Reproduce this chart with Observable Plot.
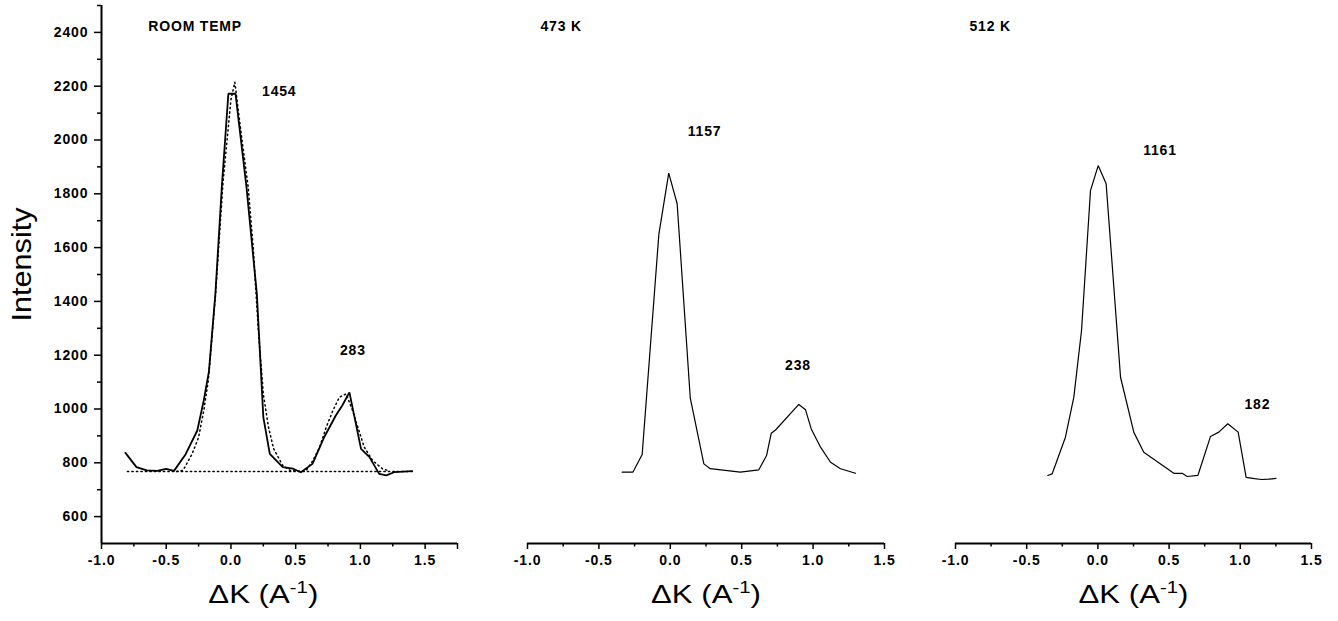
<!DOCTYPE html>
<html>
<head>
<meta charset="utf-8">
<script src="https://cdn.jsdelivr.net/npm/d3@7"></script>
<script src="https://cdn.jsdelivr.net/npm/@observablehq/plot@0.6"></script>
<style>
  body { margin: 0; background: #fff; }
  #wrap { position: relative; width: 1338px; height: 621px; overflow: hidden; background: #fff; }
  #wrap svg { position: absolute; top: 0; }
  #wrap svg g[aria-label$="tick label"] text { letter-spacing: 0.9px; }
  #wrap svg .annot text { letter-spacing: 0.8px; }
</style>
</head>
<body>
<div id="wrap"></div>
<script>
// ---------- data ----------
const panelTitles = ["ROOM TEMP", "473 K", "512 K"];

// Room temperature: measured (solid)
const rtX = [-0.815,-0.73,-0.65,-0.57,-0.50,-0.44,-0.35,-0.26,-0.21,-0.17,-0.12,-0.07,-0.02,0.035,0.12,0.20,0.25,0.30,0.40,0.48,0.54,0.63,0.72,0.81,0.86,0.915,1.005,1.07,1.145,1.20,1.26,1.40];
const rtY = [837,784,772,770,777,770,832,920,1032,1140,1430,1830,2172,2172,1825,1428,970,833,784,778,765,796,895,976,1013,1062,852,821,759,753,765,769];
// Room temperature: fit (dotted)
const rtFitX = [-0.42,-0.37,-0.30,-0.25,-0.21,-0.175,-0.12,-0.06,0.0,0.03,0.08,0.133,0.172,0.21,0.25,0.29,0.33,0.40,0.46,0.55,0.58,0.633,0.685,0.736,0.787,0.838,0.89,0.94,0.98,1.03,1.095,1.17,1.22];
const rtFitY = [768,772,833,895,994,1106,1420,1850,2150,2215,2020,1825,1601,1304,1056,932,852,790,771,768,771,808,858,932,994,1044,1056,994,932,858,808,778,770];
// Room temperature: background (dotted)
const rtBaseX = [-0.80, 1.42];
const rtBaseY = [768, 768];

// 473 K
const k473X = [-0.337,-0.262,-0.197,-0.08,-0.011,0.048,0.14,0.235,0.28,0.49,0.62,0.674,0.707,0.737,0.90,0.947,0.987,1.052,1.122,1.192,1.297];
const k473Y = [765,765,831,1650,1877,1763,1040,796,778,765,774,827,910,922,1017,997,926,858,802,778,761];

// 512 K
const k512X = [-0.352,-0.321,-0.228,-0.169,-0.115,-0.052,0.002,0.058,0.159,0.252,0.322,0.533,0.592,0.627,0.702,0.791,0.849,0.912,0.985,1.041,1.10,1.15,1.20,1.25];
const k512Y = [753,759,895,1044,1292,1812,1905,1837,1118,914,839,761,761,749,753,898,914,945,914,746,741,738,739,742];

// peak annotations
const rtPeakText = ["1454", "283"];
const rtPeakX = [0.373, 0.942];
const rtPeakY = [2180, 1217];
const k473PeakText = ["1157", "238"];
const k473PeakX = [0.24, 0.894];
const k473PeakY = [2032, 1162];
const k512PeakText = ["1161", "182"];
const k512PeakX = [0.436, 1.12];
const k512PeakY = [1961, 1017];
const titleX = [-0.638, -0.909, -0.902];
const titleY = 2422;

// axes
const xTicks = [-1, -0.5, 0, 0.5, 1, 1.5];
const xMinor = [-0.75, -0.25, 0.25, 0.75, 1.25];
const yTicks = [600, 800, 1000, 1200, 1400, 1600, 1800, 2000, 2200, 2400];
const yMinor = [700, 900, 1100, 1300, 1500, 1700, 1900, 2100, 2300, 2500];
const yDomain = [500, 2500];
const xLabelText = "\u0394K (A-1)";
const yLabelText = "Intensity";

// ---------- helpers ----------
const FONT = "'Liberation Sans', Arial, Helvetica, sans-serif";
const zip = (xs, ys) => xs.map((x, i) => ({x, y: ys[i]}));
const texts = (ts, xs, ys) => ts.map((t, i) => ({t, x: xs[i], y: ys[i]}));

function panel(cfg) {
  const marks = [];
  // axis lines
  marks.push(Plot.ruleY([yDomain[0]], {x1: -1, x2: cfg.xMax, strokeWidth: 2, stroke: "black"}));
  if (cfg.yAxis) marks.push(Plot.ruleX([-1], {y1: yDomain[0], y2: yDomain[1], strokeWidth: 2, stroke: "black"}));
  // x ticks
  marks.push(Plot.axisX(xTicks, {tickSize: 6, tickPadding: 6, tickFormat: d => d.toFixed(1), label: null,
    fontSize: 14, fontWeight: "bold", strokeWidth: 1.5}));
  marks.push(Plot.axisX(cfg.minorX, {tickSize: 3.5, tickFormat: () => "", label: null, strokeWidth: 1.5}));
  if (cfg.endTick) marks.push(Plot.axisX(cfg.endTick, {tickSize: 6, tickFormat: () => "", label: null, strokeWidth: 1.5}));
  if (cfg.yAxis) {
    marks.push(Plot.axisY(yTicks, {tickSize: 7, tickPadding: 6, tickFormat: d => String(d), label: null,
      fontSize: 14, fontWeight: "bold", strokeWidth: 1.5}));
    marks.push(Plot.axisY(yMinor, {tickSize: 4, tickFormat: () => "", label: null, strokeWidth: 1.5}));
    marks.push(Plot.text([yLabelText], {text: d => d, frameAnchor: "left", textAnchor: "middle", lineAnchor: "middle",
      rotate: -90, dx: -79, dy: -10, fontSize: 28, fontFamily: FONT}));
  }
  // x label
  marks.push(Plot.text([{x: 0.25, t: xLabelText}], {x: "x", text: "t", frameAnchor: "bottom", textAnchor: "middle",
    lineAnchor: "middle", dy: 51, fontSize: 26, fontFamily: FONT}));
  // data
  for (const s of cfg.dotted || []) {
    marks.push(Plot.line(s, {x: "x", y: "y", stroke: "black", strokeWidth: 1.5, strokeDasharray: "1.3,3.2"}));
  }
  marks.push(Plot.line(cfg.solid, {x: "x", y: "y", stroke: "black", strokeWidth: cfg.solidWidth, strokeLinejoin: "miter"}));
  // annotations
  marks.push(Plot.text([{t: cfg.title, x: cfg.titleX, y: titleY}], {x: "x", y: "y", text: "t", textAnchor: "start",
    fontSize: 14, fontWeight: "bold", className: "annot"}));
  marks.push(Plot.text(cfg.peaks, {x: "x", y: "y", text: "t", fontSize: 14, fontWeight: "bold", className: "annot"}));

  const svg = Plot.plot({
    width: cfg.width, height: 621,
    marginTop: 5, marginBottom: 78, marginLeft: cfg.marginLeft, marginRight: cfg.marginRight,
    x: {domain: [-1, cfg.xMax]},
    y: {domain: yDomain, axis: cfg.yAxis ? undefined : null},
    style: {fontFamily: FONT, fontSize: "14px", color: "black", background: "white", overflow: "visible"},
    marks
  });
  svg.style.left = cfg.left + "px";
  const ns = "http://www.w3.org/2000/svg";
  svg.querySelectorAll("text").forEach(t => {
    if (t.textContent === xLabelText) {
      // superscript in x label, stretched like the scanned original
      while (t.firstChild) t.removeChild(t.firstChild);
      const a = document.createElementNS(ns, "tspan"); a.textContent = "\u0394K (A";
      const b = document.createElementNS(ns, "tspan"); b.textContent = "-1";
      b.setAttribute("font-size", "17"); b.setAttribute("dy", "-10");
      const c = document.createElementNS(ns, "tspan"); c.textContent = ")";
      c.setAttribute("dy", "10");
      t.append(a, b, c);
      t.setAttribute("textLength", "110");
      t.setAttribute("lengthAdjust", "spacingAndGlyphs");
    } else if (t.textContent === yLabelText) {
      t.setAttribute("textLength", "114");
      t.setAttribute("lengthAdjust", "spacingAndGlyphs");
    }
  });
  document.getElementById("wrap").appendChild(svg);
}

panel({
  left: 0, width: 470, marginLeft: 101, marginRight: 13, xMax: 1.75, yAxis: true,
  minorX: xMinor, endTick: [1.75],
  solid: zip(rtX, rtY), solidWidth: 1.8,
  dotted: [zip(rtFitX, rtFitY), zip(rtBaseX, rtBaseY)],
  title: panelTitles[0], titleX: titleX[0],
  peaks: texts(rtPeakText, rtPeakX, rtPeakY)
});
panel({
  left: 470, width: 430, marginLeft: 57, marginRight: 16, xMax: 1.5, yAxis: false,
  minorX: xMinor,
  solid: zip(k473X, k473Y), solidWidth: 1.2,
  title: panelTitles[1], titleX: titleX[1],
  peaks: texts(k473PeakText, k473PeakX, k473PeakY)
});
panel({
  left: 900, width: 438, marginLeft: 55, marginRight: 27, xMax: 1.5, yAxis: false,
  minorX: xMinor,
  solid: zip(k512X, k512Y), solidWidth: 1.2,
  title: panelTitles[2], titleX: titleX[2],
  peaks: texts(k512PeakText, k512PeakX, k512PeakY)
});
</script>
</body>
</html>
